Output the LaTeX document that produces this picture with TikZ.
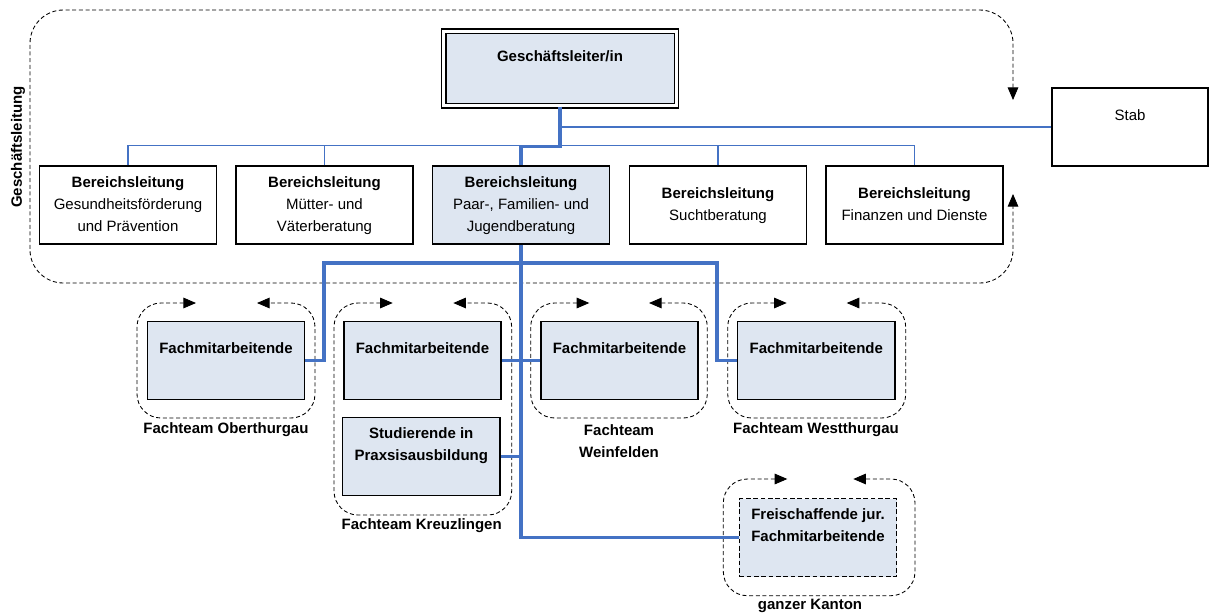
\documentclass[tikz,border=0pt]{standalone}
\usepackage{fontspec}
\setmainfont{Liberation Sans}
\usetikzlibrary{arrows.meta}
\definecolor{boxfill}{RGB}{222,230,241}
\definecolor{lineblue}{RGB}{68,114,196}
\begin{document}
\begin{tikzpicture}[x=0.75pt,y=-0.75pt,
 every node/.style={font=\fontsize{11.25}{16.5}\selectfont},
 box/.style={draw=black, line width=1.1pt, rectangle, align=center, inner sep=0pt},
 lbox/.style={box, fill=boxfill},
 bl/.style={box, minimum width=132.75pt, minimum height=58.5pt},
 fm/.style={lbox, minimum width=118pt, minimum height=58.5pt},
 thinb/.style={draw=lineblue, line width=1.1pt},
 thickb/.style={draw=lineblue, line width=2.3pt},
 grp/.style={draw=black, line width=0.65pt, dash pattern=on 3pt off 2pt, rounded corners=18pt, {Triangle[length=9.5pt,width=8pt]}-{Triangle[length=9.5pt,width=8pt]}},
 lbl/.style={font=\fontsize{11.25}{16.5}\selectfont\bfseries, align=center}
]
\useasboundingbox (0,0) rectangle (1209,615);

% groups
\draw[grp, rounded corners=25pt] (1013,100) -- (1013,10) -- (30,10) -- (30,283) -- (1013,283) -- (1013,194);
\draw[grp] (196,303) -- (137,303) -- (137,418) -- (315,418) -- (315,303) -- (257,303);
\draw[grp] (392.7,303) -- (334,303) -- (334,515) -- (511.7,515) -- (511.7,303) -- (453.3,303);
\draw[grp] (589.3,303) -- (530.7,303) -- (530.7,418) -- (707.3,418) -- (707.3,303) -- (649,303);
\draw[grp] (786.7,303) -- (727.7,303) -- (727.7,418) -- (905.7,418) -- (905.7,303) -- (846.7,303);
\draw[grp] (787.3,479) -- (723.3,479) -- (723.3,595.7) -- (915,595.7) -- (915,479) -- (853.3,479);

% boxes
\node[box, line width=1pt, fill=boxfill, double=white, double distance=2.25pt, minimum width=174.5pt, minimum height=56pt] (gl) at (560,68.5) {\strut\textbf{Geschäftsleiter/in}\\\strut};
\node[bl] (b1) at (128,205) {\strut\textbf{Bereichsleitung}\\\strut Gesundheitsförderung\\\strut und Prävention};
\node[bl] (b2) at (324.5,205) {\strut\textbf{Bereichsleitung}\\\strut Mütter- und\\\strut Väterberatung};
\node[bl, fill=boxfill] (b3) at (521,205) {\strut\textbf{Bereichsleitung}\\\strut Paar-, Familien- und\\\strut Jugendberatung};
\node[bl] (b4) at (718,205) {\strut\textbf{Bereichsleitung}\\\strut Suchtberatung};
\node[bl] (b5) at (914.5,205) {\strut\textbf{Bereichsleitung}\\\strut Finanzen und Dienste};
\node[box, minimum width=117pt, minimum height=58.5pt] (stab) at (1130,127) {\strut Stab\\\strut};

\node[fm] (ober) at (226,360.5) {\strut\textbf{Fachmitarbeitende}\\\strut};
\node[fm] (kreuz) at (422.5,360.5) {\strut\textbf{Fachmitarbeitende}\\\strut};
\node[fm] (wein) at (619.5,360.5) {\strut\textbf{Fachmitarbeitende}\\\strut};
\node[fm] (west) at (816.3,360.5) {\strut\textbf{Fachmitarbeitende}\\\strut};
\node[fm] (studi) at (421.3,456.5) {\strut\textbf{Studierende in}\\\strut\textbf{Praxsisausbildung}\\\strut};
\node[fm, dash pattern=on 3.5pt off 2pt, line width=1.2pt] (frei) at (818,537.5) {\strut\textbf{Freischaffende jur.}\\\strut\textbf{Fachmitarbeitende}\\\strut};

% connectors
\draw[thickb] (gl.south) -- ++(0,40) -| (b3.north);
\draw[thinb] (stab.west) -- (stab.west -| gl.south);
\draw[thinb] (b1.north) -- ++(0,-20) -| (b5.north);
\draw[thinb] (b2.north) -- ++(0,-20);
\draw[thinb] (b4.north) -- ++(0,-20);
\coordinate (jl) at (324,263);
\coordinate (jr) at (717,263);
\draw[thickb] (ober.east) -| (jl) -- (jr) |- (west.west);
\draw[thickb] (b3.south) |- (frei.west);
\draw[thickb] (kreuz.east) -- (wein.west);
\draw[thickb] (studi.east) -- (studi.east -| b3.south);

% labels
\node[lbl] (lober) at (226,430) {Fachteam Oberthurgau};
\node[lbl] (lkreuz) at (421.7,525.7) {Fachteam Kreuzlingen};
\node[lbl] (lwein) at (619,441) {Fachteam\\Weinfelden};
\node[lbl] (lwest) at (816,430) {Fachteam Westthurgau};
\node[lbl] (lkanton) at (810,605.5) {ganzer Kanton};
\node[lbl, rotate=90] (lgl) at (18,147) {Geschäftsleitung};
\end{tikzpicture}
\end{document}
